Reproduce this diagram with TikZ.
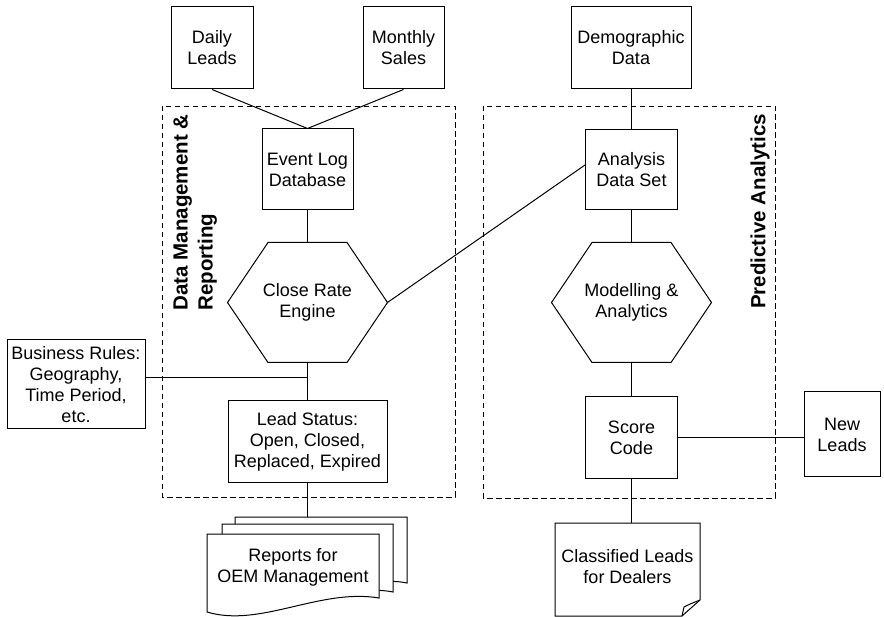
\documentclass[tikz,border=0pt]{standalone}
\usepackage{fontspec}
\setmainfont{Liberation Sans}
\begin{document}
\begin{tikzpicture}[x=1pt,y=-1pt,line width=1pt,
  every node/.style={font=\fontsize{18}{21}\selectfont, align=center, inner sep=0pt},
  box/.style={draw, fill=white},
  zone/.style={draw, line width=0.9pt, dash pattern=on 5.5pt off 3.5pt},
  label/.style={rotate=90, font=\bfseries\fontsize{20.5}{25}\selectfont}]
\useasboundingbox (0,0) rectangle (884,617);

% dashed zones
\draw[zone] (162,106) rectangle (455,497);
\draw[zone] (483,106) rectangle (775,498);
\node[label, anchor=north west, align=left] (dmr) at (173,311) {Data Management \&\\Reporting};
\node[label] (pa) at (760,211.5) {Predictive Analytics};

% sources
\node[box, minimum width=82pt, minimum height=82pt] (dl) at (212,48) {Daily\\Leads};
\node[box, minimum width=81pt, minimum height=82pt] (ms) at (403.5,48) {Monthly\\Sales};
\node[box, minimum width=120pt, minimum height=82pt] (dd) at (631,48) {Demographic\\Data};

% data management column
\node[box, minimum width=91pt, minimum height=81pt] (el) at (307.5,169.5) {Event Log\\Database};
\node[minimum width=159pt, minimum height=119pt] (cre) at (307.5,302.5) {Close Rate\\Engine};
\draw (cre.west) -- ([xshift=-39.5pt]cre.north) -- ([xshift=39.5pt]cre.north) -- (cre.east)
  -- ([xshift=39.5pt]cre.south) -- ([xshift=-39.5pt]cre.south) -- cycle;
\node[box, minimum width=159pt, minimum height=82pt] (ls) at (307.5,442) {Lead Status:\\Open, Closed,\\Replaced, Expired};
\node[box, minimum width=138pt, minimum height=89pt] (br) at (76,384.5) {Business Rules:\\Geography,\\Time Period,\\etc.};

% predictive analytics column
\node[box, minimum width=92pt, minimum height=80pt] (ads) at (631.5,170) {Analysis\\Data Set};
\node[minimum width=159pt, minimum height=119pt] (ma) at (631.5,302.5) {Modelling \&\\Analytics};
\draw (ma.west) -- ([xshift=-39.5pt]ma.north) -- ([xshift=39.5pt]ma.north) -- (ma.east)
  -- ([xshift=39.5pt]ma.south) -- ([xshift=-39.5pt]ma.south) -- cycle;
\node[box, minimum width=92pt, minimum height=82pt] (sc) at (631.5,438) {Score\\Code};
\node[box, minimum width=76pt, minimum height=85pt] (nl) at (842,434.5) {New\\Leads};

% stacked report documents
\draw[fill=white] (235,517) -- (407,517) -- (407,583) .. controls (360,573) and (290,612) .. (235,597) -- cycle;
\draw[fill=white] (222,524) -- (393,524) -- (393,592) .. controls (345,582) and (276,621) .. (222,606) -- cycle;
\draw[fill=white] (207,534) -- (379,534) -- (379,598) .. controls (320,588) and (260,628) .. (207,612) -- cycle;
\node[minimum width=172pt, minimum height=66pt] (rb) at (321,550) {};
\node (rep) at (293,567) {Reports for\\OEM Management};

% classified leads document with curled corner
\draw[fill=white] (555,523) -- (700,523) -- (700,600) -- (682,616) -- (555,616) -- cycle;
\draw (682,616) -- (684,607) .. controls (690,604) .. (700,600);
\node[minimum width=145pt, minimum height=93pt] (cl) at (627.5,569.5) {};
\node (cltext) at (627.5,567) {Classified Leads\\for Dealers};

% connectors
\draw (dl.south) -- (el.north);
\draw (ms.south) -- (el.north);
\draw (el.south) -- (cre.north);
\draw (cre.south) -- (ls.north);
\coordinate (brj) at (307.5,378);
\draw (brj -| br.east) -- (brj);
\draw (ls.south) -- (ls.south |- rb.north);
\draw (cre.east) -- ([yshift=5pt]ads.west);
\draw (dd.south) -- (dd.south |- ads.north);
\draw (ads.south) -- (ma.north);
\draw (ma.south) -- (sc.north);
\draw (sc.east) -- (sc.east -| nl.west);
\draw (sc.south) -- (sc.south |- cl.north);
\end{tikzpicture}
\end{document}
